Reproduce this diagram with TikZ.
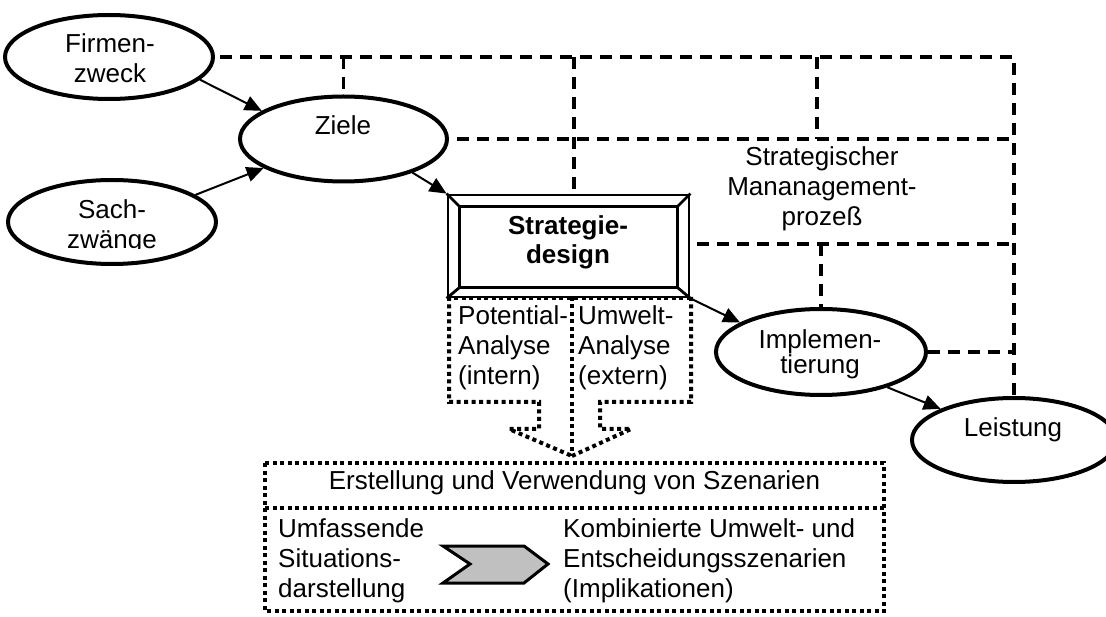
\documentclass[tikz,border=0pt]{standalone}
\usepackage{fontspec}
\setmainfont{Liberation Sans}
\usetikzlibrary{shapes.geometric,arrows.meta}
\definecolor{chevgray}{RGB}{192,192,192}
\begin{document}
\begin{tikzpicture}[x=1pt,y=-1pt,
  txt/.style={font=\fontsize{26}{30}\selectfont, inner sep=0pt, align=center},
  oval/.style={ellipse, draw, line width=4pt, minimum width=208pt, minimum height=84pt, inner sep=0pt},
  flow/.style={line width=2pt, -{Triangle[length=17pt,width=15pt]}},
  grid/.style={line width=3.5pt, dash pattern=on 12pt off 8pt},
  dots/.style={line width=4pt, dash pattern=on 4pt off 3.5pt},
  bevel/.style={line width=2.8pt}]
\useasboundingbox (0,0) rectangle (1106,617);

% process ovals
\node[oval] (fz) at (109,57) {};
\node[oval] (sz) at (112,222) {};
\node[oval, minimum width=207pt, minimum height=85pt] (ziele) at (343.5,139) {};
\node[oval, minimum width=210pt, minimum height=86pt] (impl) at (821,352) {};
\node[oval, minimum width=204pt] (leist) at (1014,440) {};

% bevelled strategy box
\node[draw, bevel, minimum width=241pt, minimum height=102pt, inner sep=0pt] (sd) at (568.5,246) {};
\coordinate (inw) at ([xshift=13pt,yshift=-13pt]sd.north west);
\coordinate (ine) at ([xshift=-13pt,yshift=-13pt]sd.north east);
\coordinate (ise) at ([xshift=-13pt,yshift=11pt]sd.south east);
\coordinate (isw) at ([xshift=13pt,yshift=11pt]sd.south west);
\draw[bevel] (inw) -- (ine) -- (ise) -- (isw) -- cycle;
\draw[bevel] (sd.north west) -- (inw) (sd.north east) -- (ine)
             (sd.south east) -- (ise) (sd.south west) -- (isw);

% dashed management grid
\coordinate (c1) at (1014,57);
\coordinate (v2) at (574,57);
\coordinate (v3) at (817,57);
\coordinate (h3) at (697,244);
\coordinate (v4) at (821,244);
\draw[grid] ([xshift=5pt]fz.east) -- (c1) -- (leist.north);
\draw[grid] (ziele.north |- c1) -- (ziele.north);
\draw[grid] (v2) -- (v2 |- sd.north);
\draw[grid] (v3) -- (v3 |- ziele.east);
\draw[grid] ([xshift=8pt]ziele.east) -- (ziele.east -| c1);
\draw[grid] (h3) -- (h3 -| c1);
\draw[grid] (v4) -- (impl.north);
\draw[grid] (impl.east) -- (impl.east -| c1);

% flow arrows
\draw[flow] (fz.-14) -- (ziele.161);
\draw[flow] (sz.18) -- (ziele.200);
\draw[flow] (ziele.-26) -- (sd.north west);
\draw[flow] (sd.south east) -- (impl.160);
\draw[flow] (impl.-28) -- (leist.157);

% analysis boxes with merging dotted arrow
\coordinate (tip) at (572,456);
\draw[dots] (sd.south west) -- (sd.south east);
\draw[dots] (449,297) -- (449,402) -- (539,402) -- (539,429) -- (509,429) -- (tip);
\draw[dots] (691,297) -- (691,402) -- (600,402) -- (600,429) -- (631,429) -- (tip);
\draw[dots] (572,297) -- (tip);

% scenario box
\draw[dots] (265,463) rectangle (884,611);
\draw[dots] (265,508) -- (884,508);
\draw[line width=3pt, fill=chevgray, line join=miter]
  (443,546) -- (524,546) -- (548,564) -- (524,583) -- (443,583) -- (470,564) -- cycle;

% labels
\node[txt] (fzt) at (110,58) {Firmen-\\zweck};
\begin{scope}
  \clip (0,150) rectangle (300,249);
  \node[txt] (szt) at (112,227) {Sach-\\zwänge};
\end{scope}
\node[txt, anchor=base] (zt) at (343,135) {Ziele};
\node[txt, font=\fontsize{26}{29}\selectfont\bfseries] (sdt) at (568,242) {Strategie-\\design};
\node[txt] (smt) at (822,189) {Strategischer\\Mananagement-\\prozeß};
\node[txt, font=\fontsize{26}{25}\selectfont] (it) at (820,354) {Implemen-\\tierung};
\node[txt, anchor=base] (lt) at (1013,437) {Leistung};
\node[txt, align=left, anchor=north west] (pa) at (458,305) {Potential-\\Analyse\\(intern)};
\node[txt, align=left, anchor=north west] (ua) at (578,305) {Umwelt-\\Analyse\\(extern)};
\node[txt, anchor=base] (es) at (574.5,489) {Erstellung und Verwendung von Szenarien};
\node[txt, align=left, anchor=north west] (us) at (278,518) {Umfassende\\Situations-\\darstellung};
\node[txt, align=left, anchor=north west] (ke) at (563,518) {Kombinierte Umwelt- und\\Entscheidungsszenarien\\(Implikationen)};
\end{tikzpicture}
\end{document}
